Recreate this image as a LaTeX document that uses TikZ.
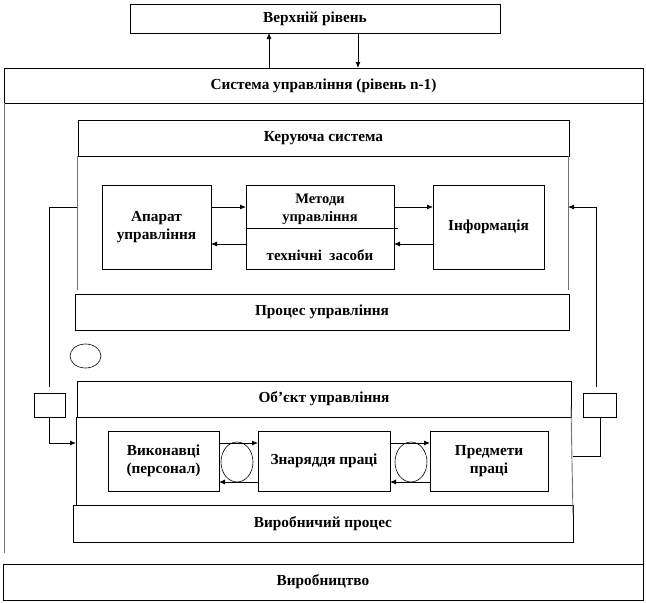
\documentclass[tikz,border=0pt]{standalone}
\usepackage{fontspec}
\setmainfont{Liberation Serif}
\usetikzlibrary{arrows.meta,shapes.geometric}
\tikzset{
  box/.style={draw, line width=0.8pt, anchor=north west, inner sep=0pt, outer sep=0pt, align=center, font=\fontsize{15.3}{18}\selectfont\bfseries},
  ln/.style={line width=0.8pt},
  gln/.style={line width=0.9pt, draw=black!55},
  arr/.style={line width=0.8pt, -{Latex[length=6pt,width=5pt]}},
  lbl/.style={inner sep=0pt, align=center, font=\fontsize{14.5}{18}\selectfont\bfseries},
  oval/.style={draw, line width=0.6pt, ellipse, inner sep=0pt}
}
\begin{document}
\begin{tikzpicture}[x=1pt,y=-1pt]
\useasboundingbox (0,0) rectangle (646,603);
% boxes
\node[box, minimum width=370pt, minimum height=29pt] (top) at (130,4) {Верхній рівень};
\node[box, minimum width=639pt, minimum height=35pt] (sys) at (4,68) {Система управління (рівень n-1)};
\node[box, minimum width=640pt, minimum height=36pt] (prod) at (3,564) {Виробництво};
\node[box, minimum width=491pt, minimum height=36pt] (ker) at (78,120) {Керуюча система};
\node[box, minimum width=494pt, minimum height=36pt] (proc) at (75,294) {Процес управління};
\node[box, minimum width=109pt, minimum height=84pt] (apar) at (102,185) {Апарат\\управління};
\node[box, minimum width=148pt, minimum height=84pt] (met) at (246,185) {};
\node[box, minimum width=111pt, minimum height=84pt] (info) at (433,185) {Інформація};
\node[box, minimum width=494pt, minimum height=36pt] (obj) at (77,381) {Об’єкт управління};
\node[box, minimum width=500pt, minimum height=37pt] (vp) at (73,505) {Виробничий процес};
\node[box, minimum width=111pt, minimum height=60pt] (vyk) at (108,431) {Виконавці\\(персонал)};
\node[box, minimum width=132pt, minimum height=60pt] (znar) at (258,431) {Знаряддя праці};
\node[box, minimum width=118pt, minimum height=60pt] (pred) at (430,431) {Предмети\\праці};
\node[box, minimum width=31pt, minimum height=24pt] (sl) at (34,393) {};
\node[box, minimum width=33pt, minimum height=24pt] (sr) at (583,393) {};
% Методи box contents
\node[lbl] (metA) at (320,209) {Методи\\управління};
\node[lbl, font=\fontsize{15}{18}\selectfont\bfseries] (metB) at (320,255) {технічні\ \ засоби};
\coordinate (divR) at (398,228);
\draw[ln] (met.west |- divR) -- (divR);
% ovals
\node[oval, minimum width=31pt, minimum height=24pt] (o1) at (85.5,356) {};
\node[oval, minimum width=32pt, minimum height=40pt] (o2) at (237,462) {};
\node[oval, minimum width=32pt, minimum height=40pt] (o3) at (411,462) {};
% outer system sides
\coordinate (sysLend) at (4,553);
\draw[gln] (sys.south west) -- (sysLend);
\draw[ln] (sys.south east) -- (prod.north east);
% keruyucha side lines
\coordinate (kL) at (77,290);
\coordinate (kR) at (568,290);
\draw[gln] (ker.south west -| kL) -- (kL);
\draw[gln] (ker.south east -| kR) -- (kR);
% object side lines
\coordinate (oL) at (76,505);
\coordinate (oRa) at (571,407);
\coordinate (oRb) at (573,515);
\draw[ln] (obj.south west -| oL) -- (oL);
\draw[gln] (oRa) -- (oRb);
% top arrows
\coordinate (up) at (269,0);
\coordinate (dn) at (358,0);
\draw[arr] (sys.north -| up) -- (top.south -| up);
\draw[arr] (top.south -| dn) -- (sys.north -| dn);
% upper row arrows
\coordinate (r1) at (0,207);
\coordinate (r2) at (0,244);
\draw[arr] (apar.east |- r1) -- (met.west |- r1);
\draw[arr] (met.east |- r1) -- (info.west |- r1);
\draw[arr] (met.west |- r2) -- (apar.east |- r2);
\draw[arr] (info.west |- r2) -- (met.east |- r2);
% lower row arrows
\coordinate (r3) at (0,443);
\coordinate (r4) at (0,482);
\draw[arr] (vyk.east |- r3) -- (znar.west |- r3);
\draw[arr] (znar.east |- r3) -- (pred.west |- r3);
\draw[arr] (znar.west |- r4) -- (vyk.east |- r4);
\draw[arr] (pred.west |- r4) -- (znar.east |- r4);
% left feedback
\coordinate (fl1) at (49,207);
\coordinate (fl2) at (49,387);
\coordinate (fl3) at (49,443);
\coordinate (fl4) at (76,443);
\draw[ln] (kL |- fl1) -- (fl1) -- (fl2);
\draw[ln] (sl.south -| fl3) -- (fl3);
\draw[arr] (fl3) -- (fl4);
% right feedback
\coordinate (fr1) at (596,207);
\coordinate (fr2) at (596,387);
\coordinate (fr3) at (600,456);
\coordinate (fr4) at (573,456);
\draw[ln] (fr2) -- (fr1);
\draw[arr] (fr1) -- (kR |- fr1);
\draw[ln] (sr.south -| fr3) -- (fr3) -- (fr4);
\end{tikzpicture}
\end{document}
